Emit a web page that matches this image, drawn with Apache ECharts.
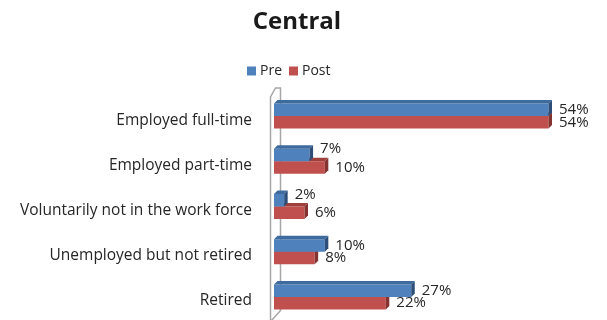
<!DOCTYPE html>
<html>
<head>
<meta charset="utf-8">
<script src="https://cdn.jsdelivr.net/npm/echarts@6/dist/echarts.min.js"></script>
<style>
  html, body { margin: 0; padding: 0; background: #fff; }
  #chart { width: 607px; height: 320px; }
</style>
</head>
<body>
<div id="chart"></div>
<script>
// Employment status, before and after (percent of respondents)
const categories = [
  'Employed full-time',
  'Employed part-time',
  'Voluntarily not in the work force',
  'Unemployed but not retired',
  'Retired'
];
const preValues = [54, 7, 2, 10, 27];
const postValues = [54, 10, 6, 8, 22];
const seriesNames = ['Pre', 'Post'];

const FONT = '"Open Sans", "Noto Sans", sans-serif';
const TEXT_COLOR = '#262626';
const BAR_W = 12.5;      // thickness of each bar face
const DEPTH = 3.5;       // 3D extrusion offset (right and up)

const palette = {
  Pre:  { front: '#4F81BD', top: '#3E6A9E', side: '#2D4E78' },
  Post: { front: '#C0504D', top: '#A0403D', side: '#843331' }
};

function toData(values) {
  return values.map((v, i) => [i, v]);
}

// Draws one extruded bar (front, top and right faces) plus its value label.
function makeRenderer(name, isUpper) {
  const c = palette[name];
  return function (params, api) {
    const idx = api.value(0);
    const val = api.value(1);
    const start = api.coord([0, idx]);
    const end = api.coord([val, idx]);
    const x0 = start[0];
    const x1 = end[0];
    const y0 = isUpper ? start[1] - BAR_W : start[1];
    const y1 = y0 + BAR_W;

    // Upper label is nudged up when the lower bar runs under it
    let labelY = (y0 + y1) / 2;
    const labelX = x1 + DEPTH + 7;
    if (isUpper) {
      const other = api.coord([postValues[idx], idx])[0] + DEPTH;
      if (other > labelX - 2) labelY -= 6;
    }

    return {
      type: 'group',
      children: [
        {
          type: 'rect',
          shape: { x: x0, y: y0, width: x1 - x0, height: BAR_W },
          style: { fill: c.front }
        },
        {
          type: 'polygon',
          shape: { points: [[x0, y0], [x1, y0], [x1 + DEPTH, y0 - DEPTH], [x0 + DEPTH, y0 - DEPTH]] },
          style: { fill: c.top }
        },
        {
          type: 'polygon',
          shape: { points: [[x1, y0], [x1 + DEPTH, y0 - DEPTH], [x1 + DEPTH, y1 - DEPTH], [x1, y1]] },
          style: { fill: c.side }
        },
        {
          type: 'text',
          style: {
            x: labelX,
            y: labelY,
            text: val + '%',
            fill: TEXT_COLOR,
            font: '15px ' + FONT,
            textAlign: 'left',
            textVerticalAlign: 'middle'
          }
        }
      ]
    };
  };
}

const chart = echarts.init(document.getElementById('chart'));

const GRID = { left: 274, top: 93.5, width: 305, height: 226 };

// Axis wall drawn as an outlined slab beside the category axis
const wallX = GRID.left - 3.5;
const wallTop = GRID.top + 3.5;
const wallBottom = GRID.top + GRID.height;

chart.setOption({
  animation: false,
  title: {
    text: 'Central',
    left: 292,
    top: 5,
    textAlign: 'center',
    textStyle: { fontFamily: FONT, fontSize: 24, fontWeight: 'bold', color: '#1a1a1a' }
  },
  legend: {
    data: seriesNames.map(n => ({ name: n, itemStyle: { color: palette[n].front } })),
    left: 247,
    top: 64,
    padding: 0,
    itemWidth: 9,
    itemHeight: 9,
    itemGap: 7,
    icon: 'rect',
    textStyle: { fontFamily: FONT, fontSize: 14, color: TEXT_COLOR, padding: [0, 0, 0, -1] }
  },
  grid: GRID,
  xAxis: {
    type: 'value',
    min: 0,
    max: 60,
    show: false
  },
  yAxis: {
    type: 'category',
    data: categories,
    inverse: true,
    axisLine: { show: false },
    axisTick: { show: false },
    splitLine: { show: false },
    axisLabel: {
      margin: 22,
      fontFamily: FONT,
      fontSize: 15.5,
      color: TEXT_COLOR,
      verticalAlign: 'top',
      lineHeight: 8
    }
  },
  graphic: [
    {
      type: 'polyline',
      z: 0,
      shape: {
        points: [
          [wallX, wallBottom + 2],
          [wallX, wallTop],
          [wallX + 5, wallTop - 9],
          [wallX + 10, wallTop - 9],
          [wallX + 10, wallBottom - 9],
          [wallX + 1, wallBottom + 1]
        ]
      },
      style: { stroke: '#A6A6A6', lineWidth: 1.5, fill: null }
    }
  ],
  series: [
    {
      name: 'Pre',
      type: 'custom',
      z: 4,
      itemStyle: { color: palette.Pre.front },
      encode: { y: 0, x: 1 },
      data: toData(preValues),
      renderItem: makeRenderer('Pre', true)
    },
    {
      name: 'Post',
      type: 'custom',
      z: 3,
      itemStyle: { color: palette.Post.front },
      encode: { y: 0, x: 1 },
      data: toData(postValues),
      renderItem: makeRenderer('Post', false)
    }
  ]
});
</script>
</body>
</html>
